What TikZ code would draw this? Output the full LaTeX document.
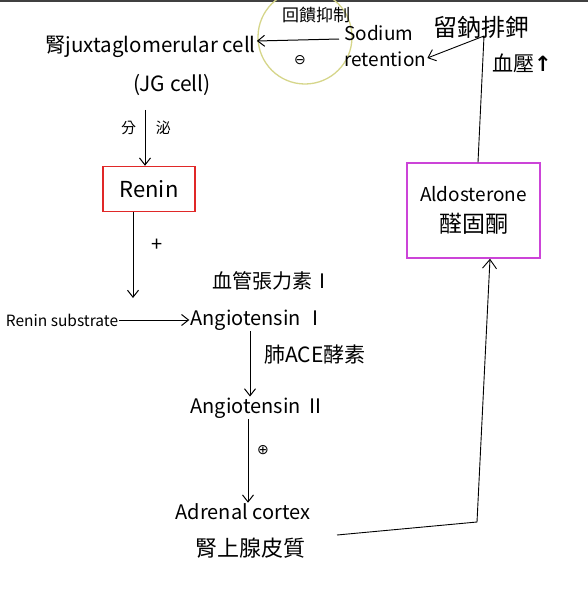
\documentclass[tikz,border=0pt]{standalone}
\usepackage{fontspec}
\setmainfont{Noto Sans CJK TC}
\newfontfamily\dv{DejaVu Sans}
\usetikzlibrary{arrows.meta}
\definecolor{rbox}{HTML}{E02828}
\definecolor{mbox}{HTML}{CC44D8}
\definecolor{ring}{HTML}{D6D68A}
\begin{document}
\begin{tikzpicture}[x=1pt,y=-1pt,
  lbl/.style={inner sep=1pt, font=\fontsize{20}{22}\selectfont},
  arr/.style={-{Straight Barb[length=7pt,width=11pt]}, line width=1pt},
  ln/.style={line width=0.9pt},
]
\useasboundingbox[fill=white] (0,0) rectangle (588,600);
\draw[line width=2.5pt, black!75] (0,1) -- (588,1);
% feedback ring
\node[draw=ring, line width=1.3pt, circle, minimum size=94pt, inner sep=0pt] (ringc) at (305,37) {};
% texts
\node[lbl, anchor=west, font=\fontsize{20.5}{22}\selectfont] (jg) at (44,47) {腎juxtaglomerular cell};
\node[lbl, font=\fontsize{21}{24}\selectfont] (jg2) at (172,85) {(JG cell)};
\node[lbl, font=\fontsize{15}{16}\selectfont] (secr) at (146,128) {分\hspace{20pt}泌};
\node[lbl, draw=rbox, line width=1.5pt, minimum width=92pt, minimum height=45pt, font=\fontsize{22}{24}\selectfont] (renin) at (149,189) {Renin};
\node[lbl, font=\fontsize{20}{22}\selectfont] (plus) at (157,245) {+};
\node[lbl, font=\fontsize{15.5}{18}\selectfont] (sub) at (62,320) {Renin substrate};
\node[lbl] (angI) at (258,320) {Angiotensin Ⅰ};
\node[lbl] (angIc) at (272,281) {血管張力素Ⅰ};
\node[lbl, font=\fontsize{21}{22}\selectfont] (ace) at (315,355) {肺ACE酵素};
\node[lbl] (angII) at (258,408) {Angiotensin Ⅱ};
\node[lbl, font=\dv\fontsize{14}{16}\selectfont] (pos) at (263,450) {⊕};
\node[lbl] (adr) at (243,512) {Adrenal cortex};
\node[lbl, font=\fontsize{22}{24}\selectfont] (adrc) at (250,548) {腎上腺皮質};
\node[lbl, draw=mbox, line width=1.5pt, minimum width=133pt, minimum height=95pt, align=center, font=\fontsize{19}{31}\selectfont] (ald) at (473.5,210.5) {Aldosterone\\{\fontsize{23}{26}\selectfont 醛固酮}};
\node[lbl, anchor=north west, align=left, font=\fontsize{19}{26}\selectfont] (sod) at (343,24) {Sodium\\retention};
\node[lbl, font=\fontsize{24}{26}\selectfont] (na) at (481,27) {留鈉排鉀};
\node[lbl, font=\fontsize{21}{22}\selectfont] (bp) at (522,63) {血壓{\dv\bfseries ↑}};
\node[lbl, font=\fontsize{17}{18}\selectfont] (fb) at (316,15) {回饋抑制};
\node[lbl, font=\dv\fontsize{14}{16}\selectfont] (neg) at (300,60) {⊖};
% connectors
\draw[arr] (secr.north) ++(-1,-10) coordinate (s1) -- (renin.north -| s1);
\draw[arr] (renin.south -| 133,0) -- (133,298) coordinate (rj);
\draw[arr] (sub.east) -- (angI.west);
\draw[arr] (angI.south -| 250,0) -- (angII.north -| 250,0);
\draw[arr] (angII.south -| 248,0) -- (adr.north -| 248,0);
\draw[ln, -{Straight Barb[length=9pt,width=14pt]}] (337,535) coordinate (a0) -- (477,522) coordinate (a1) -- (ald.south -| 490,0);
\draw[ln, -{Straight Barb[length=7pt,width=12pt]}] (ald.north -| 478,0) -- (484,36) coordinate (n1) -- (sod.east |- 0,58);
\draw[arr] (339,39) coordinate (f0) -- (jg.east |- 0,41);
\end{tikzpicture}
\end{document}
